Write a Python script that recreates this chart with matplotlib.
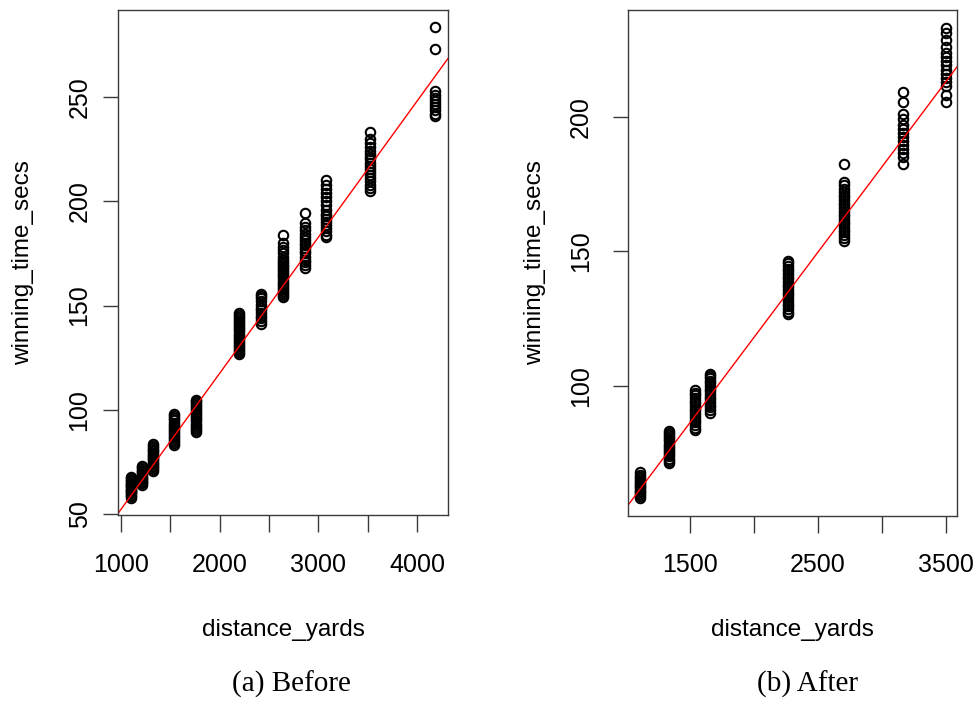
import matplotlib

matplotlib.use("Agg")
import matplotlib.pyplot as plt

# ---- data ------------------------------------------------------------------
BEFORE_DIST = [1100, 1210, 1320, 1540, 1760, 2200, 2420, 2640, 2860, 3080, 3520, 4180]
BEFORE_TIMES = [
    [58, 58.8, 59.5, 60, 60.6, 61.2, 61.8, 62.3, 62.9, 63.5, 64, 64.6, 65.2, 65.8, 66.5, 67.2, 68],
    [64, 64.8, 65.5, 66.2, 66.9, 67.5, 68.1, 68.8, 69.5, 70.2, 71, 71.8, 72.6, 73.4],
    [71, 71.8, 72.5, 73.2, 74, 74.8, 75.5, 76.3, 77, 77.8, 78.6, 79.4, 80.2, 81, 81.8, 82.7, 83.6],
    [83, 84, 85, 86, 87, 88, 89, 90, 91, 92, 93, 94, 95, 96, 97, 98],
    [89.5, 90.5, 91.5, 92.5, 93.5, 94.5, 95.5, 96.5, 97.5, 98.5, 99.5, 100.5, 101.5, 102.5, 103.5, 104.3, 105],
    [126.6, 127.6, 128.6, 129.6, 130.6, 131.6, 132.6, 133.6, 134.6, 135.6, 136.6, 137.6, 138.6,
     139.6, 140.6, 141.6, 142.6, 143.6, 144.6, 145.6, 146.6],
    [141, 142.5, 144, 145, 146.5, 148, 149, 150.5, 152, 153.5, 154.5, 155.7],
    [154, 155, 156, 157, 158, 159, 160, 161, 162, 163, 164, 165, 166, 167, 168, 169, 170, 171, 172,
     173.5, 175, 176.5, 178, 180, 183.6],
    [168, 169.5, 171, 172, 173.5, 175, 176, 177.5, 179, 180, 181.5, 183, 184.5, 186, 187.5, 189.5, 194.5],
    [182.7, 184, 185.5, 187, 188.5, 190, 191.5, 193, 194, 196, 198, 200, 202, 204, 206, 208, 210],
    [205, 206.5, 208, 209.5, 211, 212.5, 214, 215.5, 217, 218.5, 220, 221, 222.5, 224, 226, 228, 230, 233],
    [240.6, 242, 243.5, 245, 246.5, 248, 249.5, 251, 253, 273, 283.5],
]
BEFORE_FIT = (-12.8, 0.06518)  # intercept, slope of the red lm line

AFTER_DIST = [1105, 1335, 1540, 1655, 2270, 2705, 3170, 3500]
AFTER_TIMES = [
    [58.5, 59.2, 59.9, 60.5, 61.1, 61.7, 62.3, 62.9, 63.5, 64.1, 64.8, 65.5, 66.2, 67, 68],
    [71.3, 72.2, 73, 73.8, 74.6, 75.4, 76.2, 77, 77.8, 78.6, 79.4, 80.2, 81, 81.8, 82.6, 83.4],
    [83.5, 84.5, 85.5, 86.5, 87.5, 88.5, 89.5, 90.5, 91.5, 92.5, 93.5, 94.5, 95.5, 96.5, 97.3, 98.3],
    [90.1, 91, 92, 93, 94, 95, 96, 97, 98, 99, 100, 101, 102, 103, 103.8, 104.5],
    [126.6, 127.6, 128.6, 129.6, 130.6, 131.6, 132.6, 133.6, 134.6, 135.6, 136.6, 137.6, 138.6,
     139.6, 140.6, 141.6, 142.6, 143.6, 144.6, 145.5, 146.3],
    [154, 155, 156, 157, 158, 159, 160, 161, 162, 163, 164, 165, 166, 167, 168, 169, 170, 171, 172,
     173, 174.5, 175.8, 182.3],
    [182.4, 185, 186.5, 188, 189.5, 191, 192.5, 194, 195.5, 197, 199, 201, 205.5, 209],
    [205.5, 208, 211.5, 213, 214.5, 216, 217.5, 219, 220.5, 222, 223.5, 226, 228.5, 231, 233],
]
AFTER_FIT = (-8.5, 0.06325)

SANS = ["Liberation Sans", "Arial", "DejaVu Sans"]
SERIF = ["Liberation Serif", "Times New Roman", "DejaVu Serif"]
FRAME = "#3a3a3a"


def draw_panel(ax, dists, times, fit, xlim, ylim, xticks, xlabels, yticks, ypad):
    for d, ts in zip(dists, times):
        ax.plot([d] * len(ts), ts, linestyle="none", marker="o", markersize=6.8,
                markerfacecolor="none", markeredgecolor="black", markeredgewidth=1.5)
    ax.axline((0, fit[0]), slope=fit[1], color="red", linewidth=1.0)
    ax.set_xlim(*xlim)
    ax.set_ylim(*ylim)
    ax.set_xticks(xticks)
    ax.set_xticklabels(xlabels)
    ax.set_yticks(yticks)
    ax.set_yticklabels([str(v) for v in yticks], rotation=90, va="center")
    ax.tick_params(axis="x", direction="out", length=12, width=1.0, color=FRAME,
                   pad=15, labelsize=18)
    ax.tick_params(axis="y", direction="out", length=10.5, width=1.0, color=FRAME,
                   pad=ypad, labelsize=18)
    for spine in ax.spines.values():
        spine.set_color(FRAME)
        spine.set_linewidth(1.0)
    ax.set_xlabel("distance_yards", fontsize=17.5)
    ax.set_ylabel("winning_time_secs", fontsize=17.5)


def main():
    plt.rcParams["font.family"] = SANS
    fig = plt.figure(figsize=(9.75, 7.04), dpi=100)
    W, H = 975, 704

    ax1 = fig.add_axes([118 / W, 1 - 515 / H, 330 / W, 505 / H])
    draw_panel(ax1, BEFORE_DIST, BEFORE_TIMES, BEFORE_FIT,
               (970, 4314), (49.7, 291.6),
               list(range(1000, 4001, 500)),
               ["1000", "", "2000", "", "3000", "", "4000"],
               [50, 100, 150, 200, 250], ypad=8.5)
    ax1.xaxis.set_label_coords(0.5, -(630 - 515) / 505)
    ax1.xaxis.label.set_va("center")
    ax1.yaxis.set_label_coords((22.7 - 118) / 330, 0.5)
    ax1.yaxis.label.set_va("center")

    ax2 = fig.add_axes([628.3 / W, 1 - 515.7 / H, 329 / W, 505.7 / H])
    draw_panel(ax2, AFTER_DIST, AFTER_TIMES, AFTER_FIT,
               (1017, 3591), (51.8, 239.6),
               list(range(1500, 3501, 500)),
               ["1500", "", "2500", "", "3500"],
               [100, 150, 200], ypad=15)
    ax2.xaxis.set_label_coords(0.5, -(630 - 515.7) / 505.7)
    ax2.xaxis.label.set_va("center")
    ax2.yaxis.set_label_coords((535 - 628.3) / 329, 0.5)
    ax2.yaxis.label.set_va("center")

    fig.text(291 / W, 1 - 684 / H, "(a) Before", family=SERIF, fontsize=21,
             ha="center", va="center")
    fig.text(807.5 / W, 1 - 684 / H, "(b) After", family=SERIF, fontsize=21,
             ha="center", va="center")

    fig.savefig("out.png", dpi=100, facecolor="white")
    plt.close(fig)


if __name__ == "__main__":
    main()
